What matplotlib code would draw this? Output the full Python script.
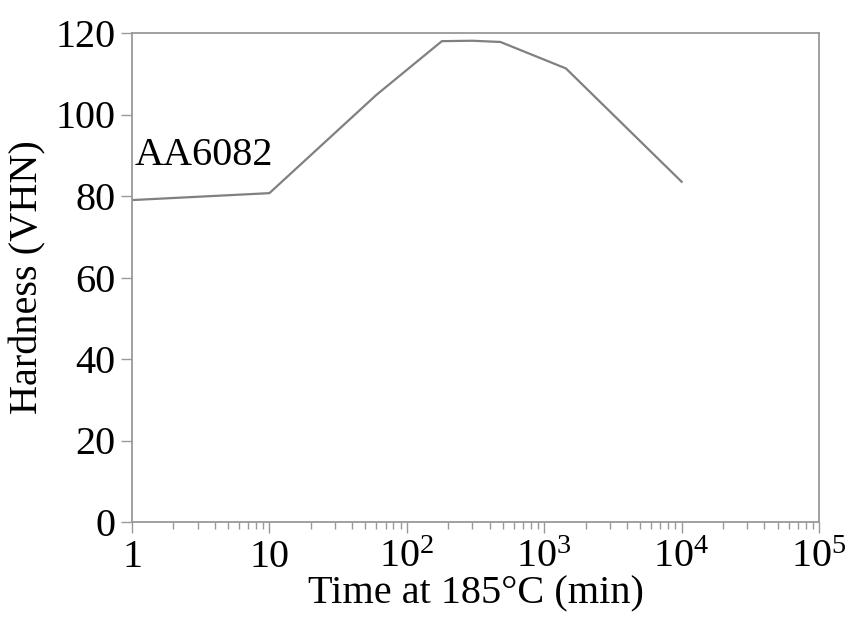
import matplotlib
matplotlib.use("Agg")
import matplotlib.pyplot as plt
from matplotlib.ticker import LogLocator, NullFormatter

# Datos de dureza
time_min = [1, 10, 60, 180, 300, 480, 1440, 10000]
hardness = [79.0, 80.7, 104.8, 118.0, 118.1, 117.8, 111.3, 83.5]

x_ticks = [1, 10, 100, 1000, 10000, 100000]
x_tick_labels = ["1", "10", "$10^2$", "$10^3$", "$10^4$", "$10^5$"]
y_ticks = [0, 20, 40, 60, 80, 100, 120]

plt.rcParams["font.family"] = ["Liberation Serif", "DejaVu Serif"]
plt.rcParams["mathtext.fontset"] = "custom"
plt.rcParams["mathtext.rm"] = "Liberation Serif"
plt.rcParams["mathtext.it"] = "Liberation Serif:italic"

fig = plt.figure(figsize=(8.58, 6.33), dpi=100)
ax = fig.add_axes([132 / 858, 1 - 522 / 633, (819 - 132) / 858, (522 - 33) / 633])

ax.plot(time_min, hardness, color="#808080", linewidth=1.6)

ax.set_xscale("log")
ax.set_xlim(1, 1e5)
ax.set_ylim(0, 120)
ax.set_xticks(x_ticks)
ax.set_xticklabels(x_tick_labels)
ax.xaxis.set_minor_locator(LogLocator(base=10, subs=range(2, 10), numticks=20))
ax.xaxis.set_minor_formatter(NullFormatter())
ax.set_yticks(y_ticks)

for s in ax.spines.values():
    s.set_color("#999999")
    s.set_linewidth(1.3)

ax.tick_params(axis="both", which="major", direction="out", length=8, width=1,
               color="#999999", labelsize=29, pad=4)
ax.tick_params(axis="x", which="minor", direction="out", length=5, width=1,
               color="#999999")

ax.text(1.05, 87.5, "AA6082", fontsize=29, va="baseline", ha="left")

ax.set_xlabel("Time at 185°C (min)", fontsize=29, labelpad=0)
ax.set_ylabel("Hardness (VHN)", fontsize=29, labelpad=6)

fig.savefig("out.png", dpi=100)
